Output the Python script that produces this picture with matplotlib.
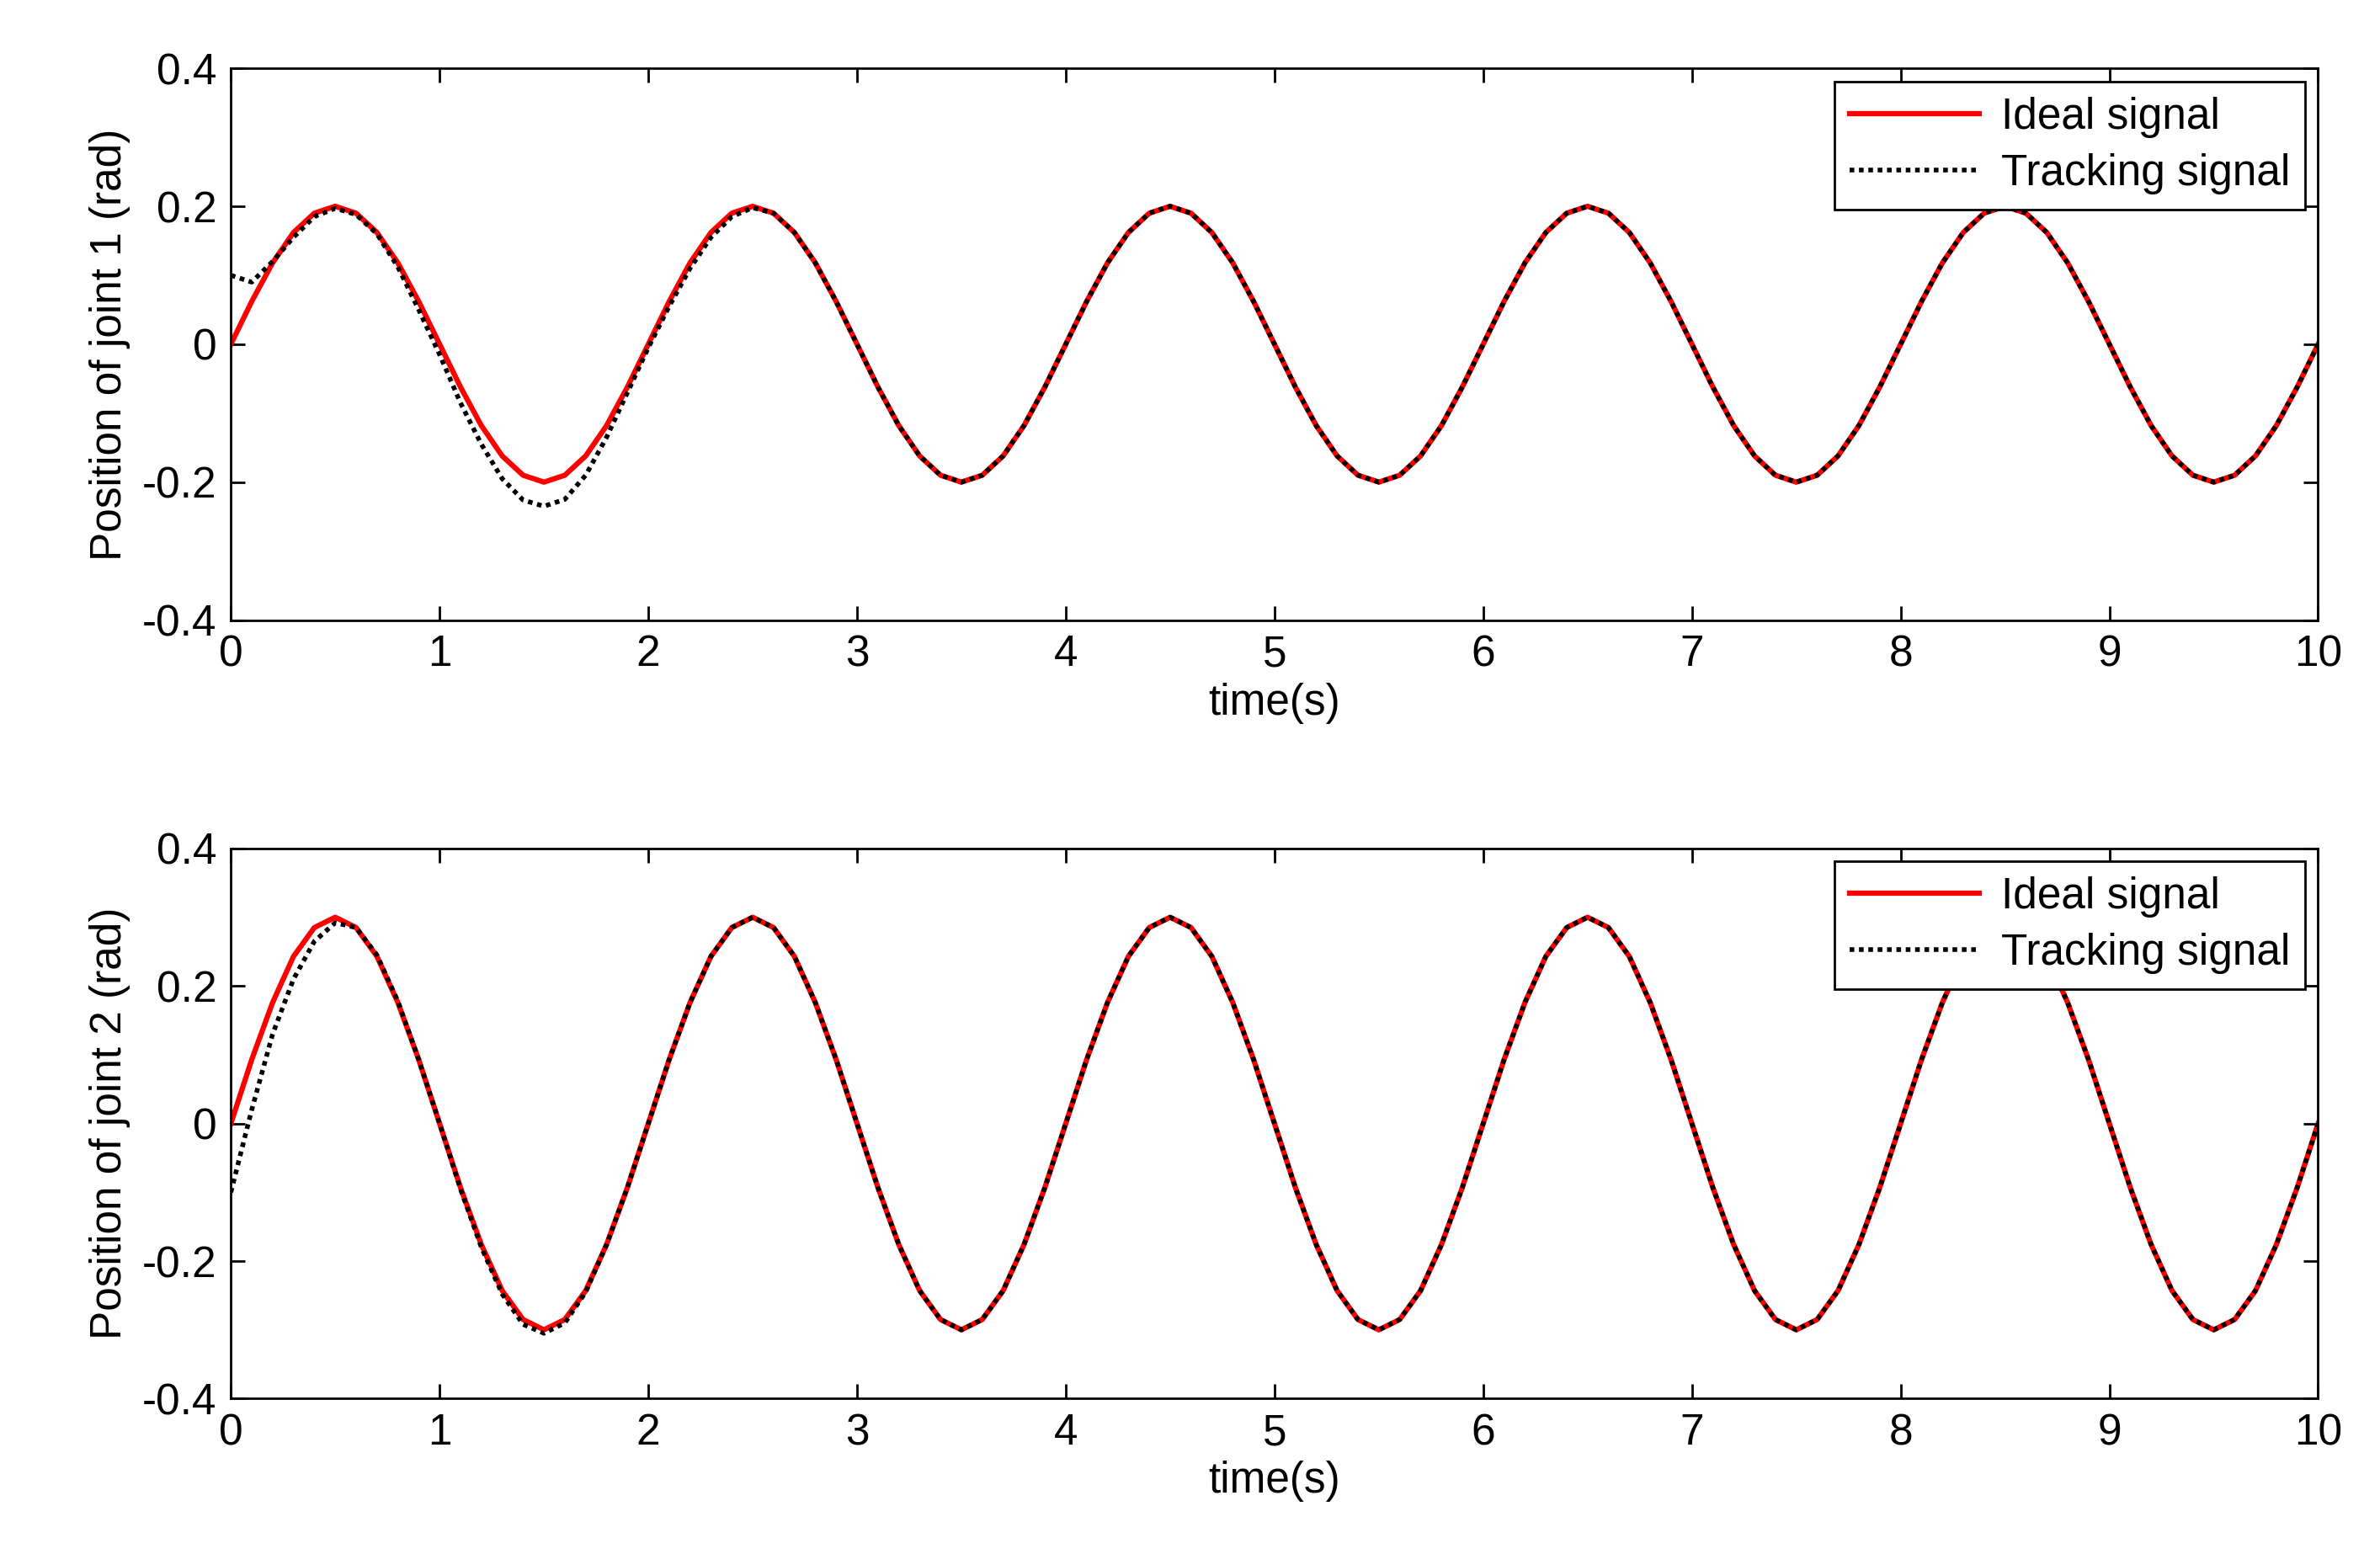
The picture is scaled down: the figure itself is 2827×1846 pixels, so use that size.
import matplotlib
matplotlib.use('Agg')
import matplotlib.pyplot as plt
import numpy as np

# sample times (s), 0.1 s step
time_s = np.linspace(0, 10, 101)

ideal_1 = [0, .062, .118, .162, .190, .200, .190, .162, .118, .062,
           0, -.062, -.118, -.162, -.190, -.200, -.190, -.162, -.118, -.062,
           0, .062, .118, .162, .190, .200, .190, .162, .118, .062,
           0, -.062, -.118, -.162, -.190, -.200, -.190, -.162, -.118, -.062,
           0, .062, .118, .162, .190, .200, .190, .162, .118, .062,
           0, -.062, -.118, -.162, -.190, -.200, -.190, -.162, -.118, -.062,
           0, .062, .118, .162, .190, .200, .190, .162, .118, .062,
           0, -.062, -.118, -.162, -.190, -.200, -.190, -.162, -.118, -.062,
           0, .062, .118, .162, .190, .200, .190, .162, .118, .062,
           0, -.062, -.118, -.162, -.190, -.200, -.190, -.162, -.118, -.062,
           0]
track_1 = [.100, .090, .120, .155, .185, .197, .188, .160, .112, .050,
           -.015, -.085, -.145, -.195, -.226, -.235, -.225, -.190, -.135, -.070,
           -.005, .055, .110, .155, .185, .198, .190, .162, .118, .062,
           0, -.062, -.118, -.162, -.190, -.200, -.190, -.162, -.118, -.062,
           0, .062, .118, .162, .190, .200, .190, .162, .118, .062,
           0, -.062, -.118, -.162, -.190, -.200, -.190, -.162, -.118, -.062,
           0, .062, .118, .162, .190, .200, .190, .162, .118, .062,
           0, -.062, -.118, -.162, -.190, -.200, -.190, -.162, -.118, -.062,
           0, .062, .118, .162, .190, .200, .190, .162, .118, .062,
           0, -.062, -.118, -.162, -.190, -.200, -.190, -.162, -.118, -.062,
           0]
ideal_2 = [0, .093, .176, .243, .285, .300, .285, .243, .176, .093,
           0, -.093, -.176, -.243, -.285, -.300, -.285, -.243, -.176, -.093,
           0, .093, .176, .243, .285, .300, .285, .243, .176, .093,
           0, -.093, -.176, -.243, -.285, -.300, -.285, -.243, -.176, -.093,
           0, .093, .176, .243, .285, .300, .285, .243, .176, .093,
           0, -.093, -.176, -.243, -.285, -.300, -.285, -.243, -.176, -.093,
           0, .093, .176, .243, .285, .300, .285, .243, .176, .093,
           0, -.093, -.176, -.243, -.285, -.300, -.285, -.243, -.176, -.093,
           0, .093, .176, .243, .285, .300, .285, .243, .176, .093,
           0, -.093, -.176, -.243, -.285, -.300, -.285, -.243, -.176, -.093,
           0]
track_2 = [-.100, .020, .130, .210, .265, .292, .285, .245, .178, .093,
           0, -.095, -.180, -.248, -.292, -.305, -.290, -.245, -.176, -.093,
           0, .093, .176, .243, .285, .300, .285, .243, .176, .093,
           0, -.093, -.176, -.243, -.285, -.300, -.285, -.243, -.176, -.093,
           0, .093, .176, .243, .285, .300, .285, .243, .176, .093,
           0, -.093, -.176, -.243, -.285, -.300, -.285, -.243, -.176, -.093,
           0, .093, .176, .243, .285, .300, .285, .243, .176, .093,
           0, -.093, -.176, -.243, -.285, -.300, -.285, -.243, -.176, -.093,
           0, .093, .176, .243, .285, .300, .285, .243, .176, .093,
           0, -.093, -.176, -.243, -.285, -.300, -.285, -.243, -.176, -.093,
           0]

ylabels = ['Position of joint 1 (rad)', 'Position of joint 2 (rad)']
yticks = [-0.4, -0.2, 0, 0.2, 0.4]
ytick_labels = ['-0.4', '-0.2', '0', '0.2', '0.4']

plt.rcParams['font.family'] = ['Liberation Sans', 'DejaVu Sans']
fs = 37

fig = plt.figure(figsize=(28.27, 18.46), dpi=100)
axes = [fig.add_axes([0.097, 0.601, 0.877, 0.355]),
        fig.add_axes([0.097, 0.100, 0.877, 0.354])]

for ax, ideal, track, ylab in zip(axes, [ideal_1, ideal_2], [track_1, track_2], ylabels):
    ax.plot(time_s, ideal, color='red', lw=4.5, label='Ideal signal')
    ax.plot(time_s, track, color='black', lw=4, ls=(0, (1, 1)), label='Tracking signal')
    ax.set_xlim(0, 10)
    ax.set_ylim(-0.4, 0.4)
    ax.set_xticks(range(11))
    ax.set_yticks(yticks)
    ax.set_yticklabels(ytick_labels)
    ax.tick_params(direction='in', top=True, right=True, labelsize=fs,
                   length=12, width=2, pad=12)
    for sp in ax.spines.values():
        sp.set_linewidth(2)
    ax.set_xlabel('time(s)', fontsize=fs, labelpad=6)
    ax.set_ylabel(ylab, fontsize=fs, labelpad=10)
    leg = ax.legend(loc='upper right', fontsize=fs, fancybox=False, framealpha=1,
                    edgecolor='black', borderaxespad=0.3, handlelength=3.0,
                    borderpad=0.35, labelspacing=0.35, handletextpad=0.5)
    leg.get_frame().set_linewidth(2)

fig.savefig('out.png', dpi=100)
